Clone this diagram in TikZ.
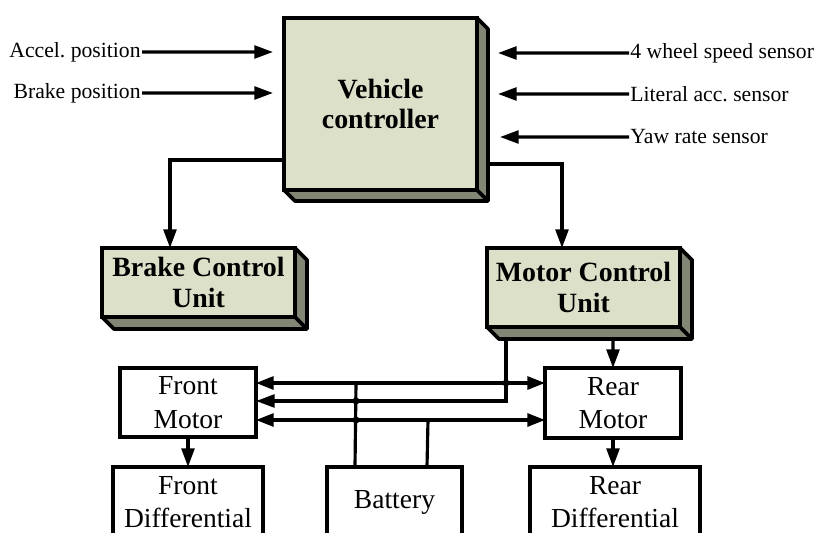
\documentclass[tikz,border=0pt]{standalone}
\usepackage{fontspec}
\setmainfont{Liberation Serif}
\usetikzlibrary{arrows.meta,calc}
\frenchspacing

\definecolor{unitface}{RGB}{221,224,200}
\definecolor{unitside}{RGB}{130,135,117}

\tikzset{
  unit/.style={draw, fill=unitface, line width=3.2pt, inner sep=0pt, outer sep=0pt,
    align=center, font=\fontsize{23.8}{26}\selectfont\bfseries},
  unitdepth/.style={draw, fill=unitside, line width=3.2pt, line join=round},
  part/.style={draw, line width=2.8pt, inner sep=0pt, outer sep=0pt,
    align=center, font=\fontsize{23.5}{28.5}\selectfont},
  lbl/.style={inner sep=1pt, font=\fontsize{18.5}{20}\selectfont},
  link/.style={line width=2.7pt},
  arr/.style={link, -{Triangle[length=16pt,width=11pt]}},
  dblarr/.style={link, {Triangle[length=15pt,width=11pt]}-{Triangle[length=15pt,width=11pt]}},
  joint/.style={fill}
}

% side and bottom face of a raised block
\newcommand{\blockdepth}[2]{%
  \draw[unitdepth] (#1.north east) -- ++(#2,#2) |- ($(#1.south west)+(#2,#2)$)
    -- (#1.south west) -- (#1.south east) -- cycle;
  \draw[unitdepth] (#1.south east) -- ++(#2,#2);}

\begin{document}
\begin{tikzpicture}[x=0.3mm,y=-0.3mm]
    \useasboundingbox (0,0) rectangle (814,532);

    % control blocks
    \node[unit, minimum width=57.9mm, minimum height=51.6mm] (vc) at (380.5,104) {Vehicle\\controller};
    \blockdepth{vc}{11}
    \node[unit, minimum width=57.9mm, minimum height=20.7mm] (bcu) at (198.5,282.5) {Brake Control\\Unit};
    \blockdepth{bcu}{12}
    \node[unit, minimum width=57.9mm, minimum height=23.7mm] (mcu) at (583.5,287.5) {Motor Control\\Unit};
    \blockdepth{mcu}{12}

    % drive train
    \node[part, minimum width=40.8mm, minimum height=20.7mm] (fm) at (188,402.5) {Front\\Motor};
    \node[part, minimum width=40.8mm, minimum height=21mm] (rm) at (613,403) {Rear\\Motor};
    \node[part, minimum width=45mm, minimum height=21mm] (fd) at (188,502) {Front\\Differential};
    \node[part, minimum width=40.5mm, minimum height=21mm] (bat) at (394.5,502) {Battery};
    \node[part, minimum width=51mm, minimum height=21mm] (rd) at (615,502) {Rear\\Differential};

    % sensor inputs
    \node[lbl, anchor=east] (accel) at (142,52) {Accel. position};
    \node[lbl, anchor=east] (brake) at (142,93) {Brake position};
    \node[lbl, anchor=west] (wheel) at (629,53) {4 wheel speed sensor};
    \node[lbl, anchor=west] (lat) at (629,94) {Literal acc. sensor};
    \node[lbl, anchor=west] (yaw) at (629,137) {Yaw rate sensor};

    \draw[arr] (accel.east) -- ($(vc.north west)+(-11,34)$);
    \draw[arr] (brake.east) -- ($(vc.north west)+(-11,75)$);
    \draw[arr] (wheel.west) -- ($(vc.north east)+(21,35)$);
    \draw[arr] (lat.west) -- ($(vc.north east)+(21,76)$);
    \draw[arr] (yaw.west) -- ($(vc.north east)+(23,119)$);

    % controller outputs
    \draw[arr] ($(vc.south west)+(0,-30)$) -| ($(bcu.north west)+(68,0)$);
    \draw[arr] ($(vc.south east)+(11,-26)$) -| ($(mcu.north west)+(75,0)$);

    % motor control and power lines
    \draw[dblarr] ($(fm.north east)+(0,15)$) -- ($(rm.north west)+(0,15)$);
    \draw[arr] ($(mcu.south west)+(19,12)$) |- ($(fm.north east)+(0,33)$);
    \draw[dblarr] ($(fm.north east)+(0,52)$) -- ($(rm.north west)+(0,52)$);
    \draw[arr] ($(mcu.south west)+(126,12)$) -- (rm.north);
    \draw[link] ($(bat.north west)+(28,0)$) -- ($(fm.north east)+(100,15)$);
    \draw[link] ($(bat.north west)+(100,0)$) -- ($(fm.north east)+(172,52)$);
    \fill[joint] ($(mcu.south west)+(19,56)$) circle (3pt);
    \fill[joint] ($(fm.north east)+(100,33)$) circle (3pt);
    \fill[joint] ($(fm.north east)+(100,52)$) circle (3pt);

    \draw[arr] (fm.south) -- (fd.north);
    \draw[arr] (rm.south) -- (rm.south |- rd.north);
\end{tikzpicture}
\end{document}
